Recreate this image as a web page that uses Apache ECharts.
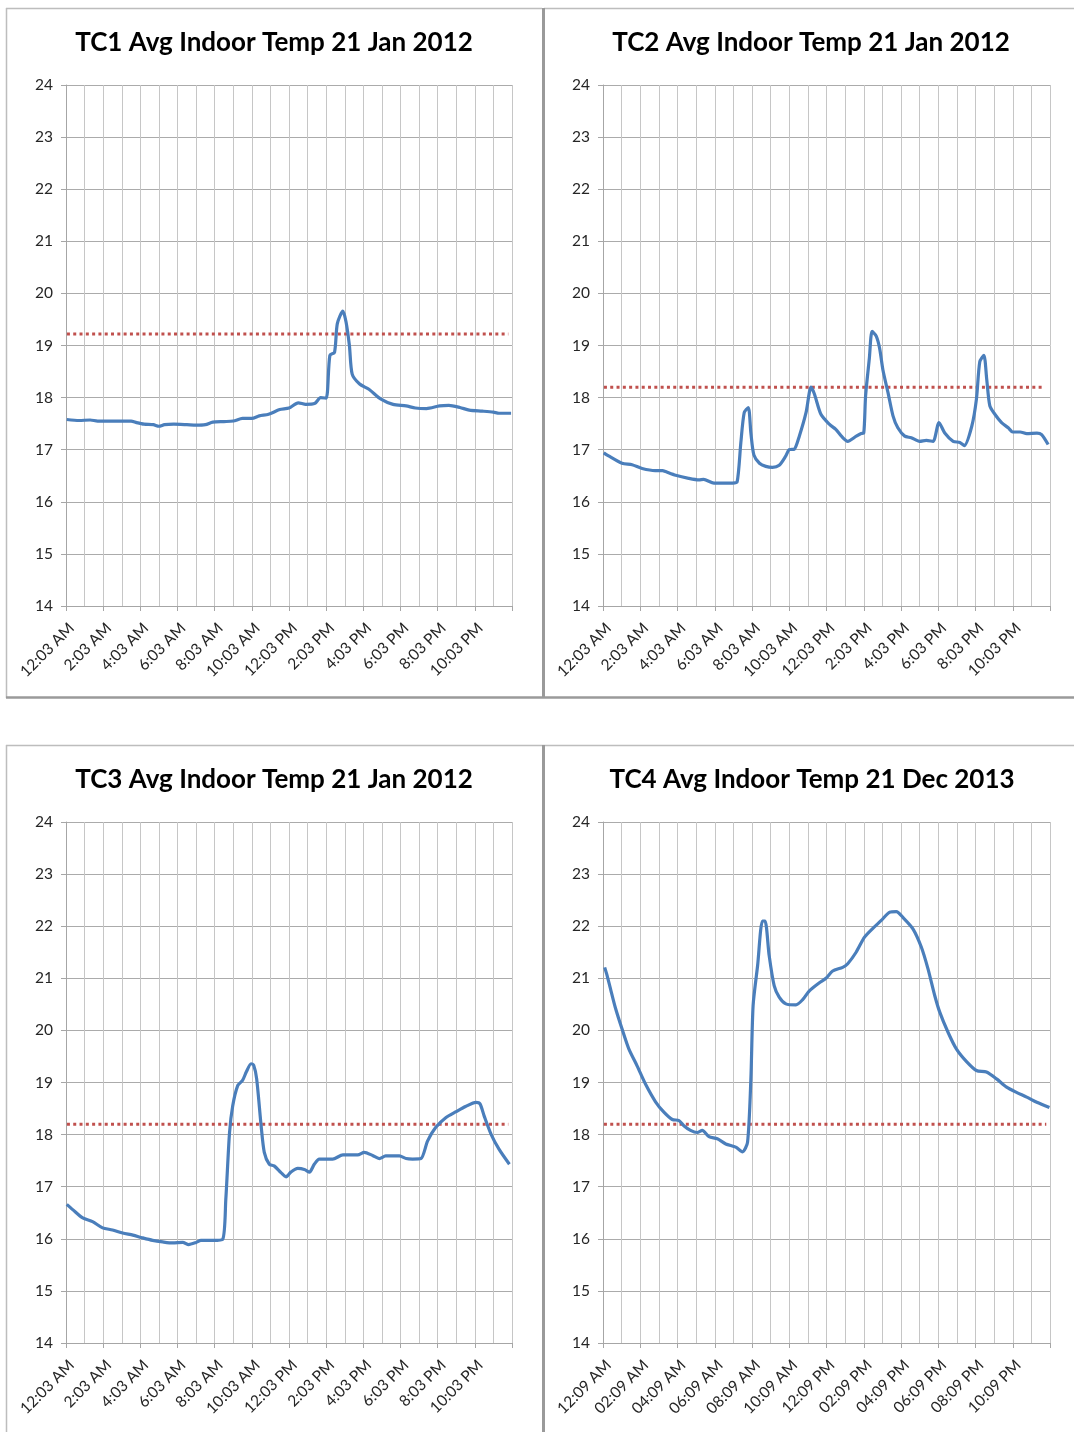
<!DOCTYPE html>
<html>
<head>
<meta charset="utf-8">
<script src="https://cdn.jsdelivr.net/npm/echarts@6/dist/echarts.min.js"></script>
<style>
html,body{margin:0;padding:0;background:#fff;}
#chart{width:1074px;height:1432px;}
</style>
</head>
<body>
<div id="chart"></div>
<script>
// ---------- DATA ----------
var titles = [
  "TC1 Avg Indoor Temp 21 Jan 2012",
  "TC2 Avg Indoor Temp 21 Jan 2012",
  "TC3 Avg Indoor Temp 21 Jan 2012",
  "TC4 Avg Indoor Temp 21 Dec 2013"
];
var janTickLabels = ["12:03 AM","2:03 AM","4:03 AM","6:03 AM","8:03 AM","10:03 AM","12:03 PM","2:03 PM","4:03 PM","6:03 PM","8:03 PM","10:03 PM"];
var decTickLabels = ["12:09 AM","02:09 AM","04:09 AM","06:09 AM","08:09 AM","10:09 AM","12:09 PM","02:09 PM","04:09 PM","06:09 PM","08:09 PM","10:09 PM"];
var thresholds = [19.22, 18.2, 18.2, 18.2];

// [hours since first reading, temperature °C]
var tc1Data = [
  [0.04,17.58],[0.7,17.56],[1.3,17.57],[1.7,17.55],[2.5,17.55],[3.5,17.55],[3.8,17.52],[4.2,17.49],
  [4.7,17.48],[5.0,17.45],[5.3,17.48],[5.8,17.49],[6.5,17.48],[7.0,17.47],[7.5,17.48],[7.9,17.53],
  [8.5,17.54],[9.0,17.55],[9.5,17.6],[10.0,17.6],[10.4,17.65],[10.9,17.68],[11.5,17.77],[12.0,17.8],
  [12.5,17.9],[12.9,17.87],[13.4,17.89],[13.7,18.0],[14.0,17.99],[14.2,18.81],[14.45,18.87],[14.6,19.42],
  [14.9,19.66],[15.07,19.45],[15.25,19.0],[15.4,18.45],[15.8,18.26],[16.3,18.16],[16.95,17.97],[17.6,17.87],
  [18.3,17.84],[18.8,17.8],[19.4,17.79],[20.1,17.84],[20.6,17.85],[21.2,17.81],[21.7,17.76],[22.4,17.74],
  [23.0,17.72],[23.3,17.7],[23.95,17.7]
];
var tc2Data = [
  [0.04,16.94],[0.3,16.88],[1.02,16.74],[1.56,16.71],[2.1,16.64],[2.8,16.6],[3.2,16.6],[3.36,16.58],
  [3.9,16.51],[4.6,16.45],[5.15,16.42],[5.4,16.43],[5.96,16.36],[6.4,16.36],[6.95,16.36],[7.2,16.38],
  [7.4,17.13],[7.58,17.71],[7.8,17.81],[7.94,17.32],[8.1,16.9],[8.4,16.74],[8.74,16.68],[9.1,16.66],
  [9.46,16.7],[9.8,16.87],[10.0,17.0],[10.27,17.01],[10.54,17.26],[10.9,17.71],[11.17,18.2],[11.35,18.07],
  [11.7,17.68],[12.15,17.49],[12.5,17.39],[12.8,17.26],[13.14,17.16],[13.6,17.26],[13.86,17.31],[14.0,17.32],
  [14.1,18.04],[14.3,18.75],[14.45,19.27],[14.67,19.18],[14.85,18.95],[15.03,18.53],[15.3,18.1],[15.57,17.65],
  [15.83,17.42],[16.2,17.26],[16.55,17.23],[17.0,17.16],[17.36,17.18],[17.72,17.16],[18.04,17.52],[18.35,17.32],
  [18.8,17.16],[19.16,17.14],[19.4,17.08],[19.8,17.45],[20.05,17.97],[20.23,18.69],[20.45,18.81],[20.6,18.36],
  [20.77,17.84],[21.04,17.68],[21.4,17.52],[21.76,17.42],[22.0,17.34],[22.4,17.34],[22.75,17.31],[23.3,17.32],
  [23.55,17.29],[23.9,17.1]
];
var tc3Data = [
  [0.04,16.66],[0.36,16.56],[0.9,16.4],[1.43,16.33],[1.97,16.21],[2.5,16.17],[3.05,16.11],[3.6,16.07],
  [4.1,16.02],[4.66,15.97],[5.2,15.94],[5.74,15.92],[6.28,15.93],[6.6,15.89],[7.0,15.93],[7.26,15.97],
  [7.9,15.97],[8.43,15.99],[8.6,16.76],[8.8,18.04],[8.97,18.55],[9.24,18.94],[9.5,19.04],[9.7,19.2],
  [9.96,19.36],[10.1,19.33],[10.26,19.07],[10.5,18.17],[10.67,17.66],[10.94,17.43],[11.2,17.4],[11.57,17.27],
  [11.84,17.19],[12.1,17.28],[12.47,17.35],[12.83,17.33],[13.1,17.28],[13.36,17.43],[13.63,17.53],[14.35,17.53],
  [14.9,17.61],[15.7,17.61],[16.05,17.66],[16.5,17.6],[16.86,17.54],[17.2,17.59],[17.94,17.59],[18.3,17.54],
  [18.65,17.53],[19.1,17.54],[19.46,17.88],[19.9,18.14],[20.45,18.33],[20.99,18.44],[21.5,18.54],[22.06,18.62],
  [22.28,18.59],[22.5,18.36],[22.87,18.01],[23.3,17.72],[23.86,17.43]
];
var tc4Data = [
  [0.09,21.21],[0.2,21.08],[0.4,20.8],[0.66,20.44],[1.02,20.03],[1.38,19.65],[1.83,19.32],[2.28,18.97],
  [2.82,18.63],[3.27,18.43],[3.72,18.29],[4.08,18.27],[4.34,18.17],[4.7,18.08],[5.06,18.04],[5.33,18.08],
  [5.69,17.96],[6.14,17.92],[6.59,17.82],[7.13,17.76],[7.49,17.67],[7.76,17.85],[7.94,19.07],[8.06,20.48],
  [8.3,21.24],[8.56,22.1],[8.7,22.1],[8.92,21.44],[9.19,20.86],[9.46,20.64],[9.82,20.51],[10.36,20.49],
  [10.72,20.59],[11.08,20.76],[11.6,20.91],[11.97,21.0],[12.33,21.14],[12.87,21.21],[13.14,21.28],[13.59,21.5],
  [14.04,21.79],[14.49,21.96],[14.94,22.11],[15.39,22.27],[15.75,22.28],[16.1,22.17],[16.64,21.95],[17.09,21.6],
  [17.45,21.18],[17.81,20.67],[18.08,20.35],[18.53,19.96],[18.98,19.64],[19.52,19.4],[20.05,19.23],[20.59,19.2],
  [21.13,19.07],[21.67,18.91],[22.2,18.81],[22.75,18.72],[23.29,18.62],[23.97,18.52]
];
var seriesData = [tc1Data, tc2Data, tc3Data, tc4Data];
var tickLabelSets = [janTickLabels, janTickLabels, janTickLabels, decTickLabels];
var thresholdEnds = [23.8, 23.7, 23.8, 23.8];

// ---------- LAYOUT ----------
var FONT = "Lato";
var grids = [
  {left:66,  top:85,  width:446, height:521},
  {left:603, top:85,  width:447, height:521},
  {left:66,  top:822, width:446, height:521},
  {left:603, top:822, width:447, height:521}
];
var titlePos = [[274,43],[811,43],[274,780],[812,780]];

var xAxes = [], yAxes = [], series = [], graphics = [];
grids.forEach(function(g, i){
  var labels = tickLabelSets[i];
  xAxes.push({
    gridIndex:i, type:'value', min:0, max:24, interval:1,
    axisLine:{show:true, lineStyle:{color:'#A6A6A6', width:1}},
    axisTick:{show:false},
    splitLine:{show:true, lineStyle:{color:'#C6C6C6', width:1}},
    axisLabel:{
      rotate:45, margin:14, fontFamily:FONT, fontSize:15.5, color:'#262626',
      align:'right', verticalAlign:'top',
      formatter:function(v){ return (v % 2 === 0 && v < 24) ? labels[v/2] : ''; }
    }
  });
  xAxes.push({
    gridIndex:i, type:'value', min:0, max:24, interval:2, position:'bottom',
    axisLine:{show:false}, axisLabel:{show:false}, splitLine:{show:false},
    axisTick:{show:true, length:5, lineStyle:{color:'#A6A6A6'}}
  });
  yAxes.push({
    gridIndex:i, type:'value', min:14, max:24, interval:1,
    axisLine:{show:true, lineStyle:{color:'#A6A6A6'}},
    axisTick:{show:true, length:5, lineStyle:{color:'#A6A6A6'}},
    splitLine:{show:true, lineStyle:{color:'#ABABAB'}},
    axisLabel:{fontFamily:FONT, fontSize:15.5, color:'#262626', margin:13}
  });
  series.push({
    type:'line', xAxisIndex:i*2, yAxisIndex:i, data:seriesData[i],
    showSymbol:false, symbol:'none', smooth:0.25, z:3,
    lineStyle:{color:'#4A7EBB', width:3.2}
  });
  series.push({
    type:'line', xAxisIndex:i*2, yAxisIndex:i,
    data:[[0.05, thresholds[i]],[thresholdEnds[i], thresholds[i]]],
    symbol:'none', z:2,
    lineStyle:{color:'#C0504D', width:3, type:[3,3.3]}
  });
  graphics.push({
    type:'text', x:titlePos[i][0], y:titlePos[i][1],
    style:{text:titles[i], fontFamily:FONT, fontWeight:'bold', fontSize:26, fill:'#000',
           textAlign:'center', textVerticalAlign:'middle'}
  });
});

// panel frames
function hline(x1,x2,y,c,w){ return {type:'line', shape:{x1:x1,y1:y,x2:x2,y2:y}, style:{stroke:c, lineWidth:w}, silent:true}; }
function vline(x,y1,y2,c,w){ return {type:'line', shape:{x1:x,y1:y1,x2:x,y2:y2}, style:{stroke:c, lineWidth:w}, silent:true}; }
graphics.push(hline(6,542,8.5,'#BDBDBD',1.5));
graphics.push(vline(6.5,8,698,'#BDBDBD',1.5));
graphics.push(hline(544,1074,8.5,'#BDBDBD',1.5));
graphics.push(vline(543.5,8,698,'#9A9A9A',3));
graphics.push(hline(6,1074,697.5,'#9A9A9A',2.5));
graphics.push(hline(6,1074,745.5,'#BDBDBD',1.5));
graphics.push(vline(6.5,745,1432,'#BDBDBD',1.5));
graphics.push(vline(543.5,745,1432,'#9A9A9A',3));

var chart = echarts.init(document.getElementById('chart'), null, {renderer:'canvas'});
chart.setOption({
  animation:false,
  backgroundColor:'#fff',
  grid:grids,
  xAxis:xAxes,
  yAxis:yAxes,
  series:series,
  graphic:graphics
});
</script>
</body>
</html>
